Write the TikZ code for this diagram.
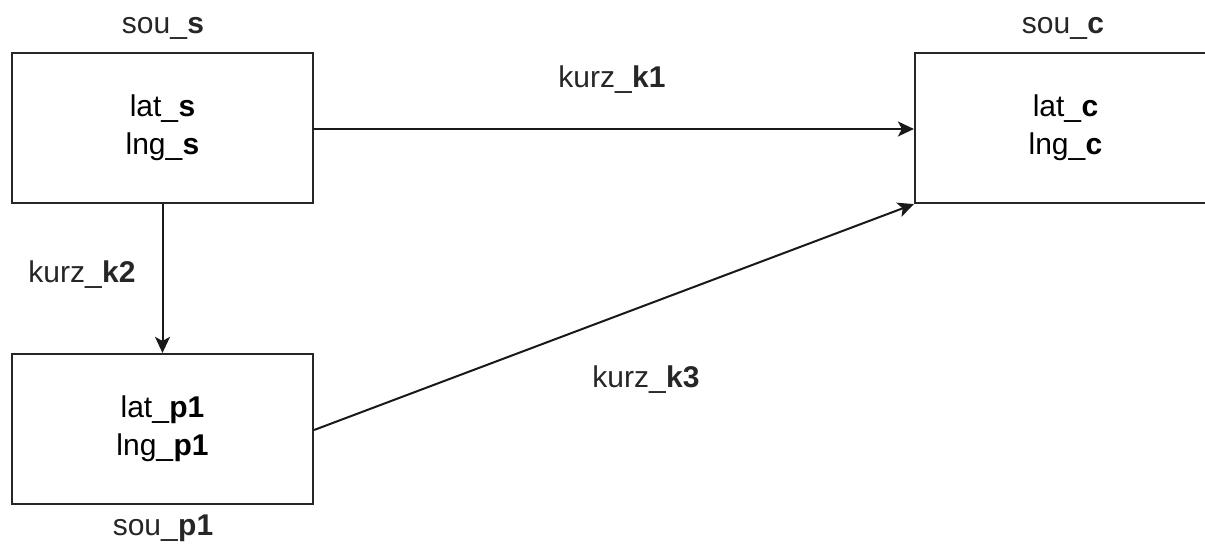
\documentclass[tikz,border=0pt]{standalone}
\usepackage{fontspec}
\setmainfont{Liberation Sans}
\usetikzlibrary{arrows.meta}
\begin{document}
\begin{tikzpicture}[x=0.5pt,y=-0.5pt,
  every node/.style={font=\fontsize{15}{19}\selectfont},
  box/.style={draw=black!85,line width=1.1pt,minimum width=150.5pt,minimum height=75pt,
    inner sep=0pt,align=center},
  lbl/.style={inner sep=0pt,text=black!85},
  conn/.style={draw=black!90,line width=1pt,-{Stealth[length=8pt,width=7.5pt,inset=2pt]}}]
\useasboundingbox (0,0) rectangle (1205,544);
\clip (0,0) rectangle (1205,544);
% stations
\node[box] (s) at (162.5,128) {lat\_\textbf{s}\\lng\_\textbf{s}};
\node[box] (p1) at (162.5,429) {lat\_\textbf{p1}\\lng\_\textbf{p1}};
\node[box] (c) at (1065.5,128) {lat\_\textbf{c}\\lng\_\textbf{c}};
% station names
\node[lbl] (ns) at (163,28) {sou\_\textbf{s}};
\node[lbl] (nc) at (1063,28) {sou\_\textbf{c}};
\node[lbl] (np1) at (163,528) {sou\_\textbf{p1}};
% connections
\draw[conn] (s.east |- 0,129) -- (c.west |- 0,129);
\draw[conn] (s.south) -- (p1.north);
\draw[conn] (p1.east |- 0,430) -- (c.south west);
% connection labels
\node[lbl] (k1) at (612,80) {kurz\_\textbf{k1}};
\node[lbl] (k2) at (82,275) {kurz\_\textbf{k2}};
\node[lbl] (k3) at (646,380) {kurz\_\textbf{k3}};
\end{tikzpicture}
\end{document}
